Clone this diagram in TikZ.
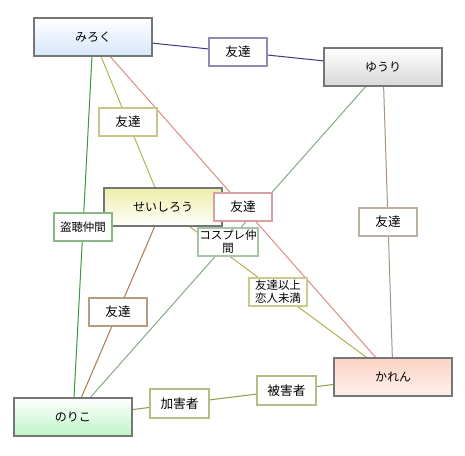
\documentclass[tikz,border=0pt]{standalone}
\usepackage{fontspec}
\newfontfamily\jp{Noto Sans CJK JP}
\pgfdeclarelayer{bg}
\pgfdeclarelayer{fg}
\pgfsetlayers{bg,main,fg}
\definecolor{boxborder}{HTML}{767676}
\definecolor{cMiroku}{HTML}{D6E6FB}
\definecolor{cYuri}{HTML}{D8D8D8}
\definecolor{cSei}{HTML}{EEEEAA}
\definecolor{cNoriko}{HTML}{BDF5C6}
\definecolor{cKarenT}{HTML}{FFF1EC}
\definecolor{cKarenB}{HTML}{FBD3C3}
\definecolor{eMY}{HTML}{3A3A80}\definecolor{lMY}{HTML}{8C8CB4}
\definecolor{eMS}{HTML}{B4B450}\definecolor{lMS}{HTML}{C8C48C}
\definecolor{eMK}{HTML}{E08A8A}\definecolor{lMK}{HTML}{D8A0A0}
\definecolor{eMN}{HTML}{3C9C3C}\definecolor{lMN}{HTML}{88B888}
\definecolor{eYN}{HTML}{88A888}\definecolor{lYN}{HTML}{A8C4A8}
\definecolor{eYK}{HTML}{A89480}\definecolor{lYK}{HTML}{BCB0A4}
\definecolor{eSN}{HTML}{B07850}\definecolor{lSN}{HTML}{B89C80}
\definecolor{eSK}{HTML}{B4B050}\definecolor{lSK}{HTML}{CCC890}
\definecolor{eNK}{HTML}{909C48}\definecolor{lNK}{HTML}{B4BC88}
\tikzset{
  person/.style={draw=boxborder, line width=1.5pt, minimum width=88.5pt, minimum height=28.5pt, inner sep=0pt, font=\jp\fontsize{9}{10}\selectfont},
  lbl/.style={draw=#1, fill=white, line width=1.3pt, minimum width=44pt, minimum height=21.5pt, inner sep=1pt, align=center, font=\jp\fontsize{9.5}{10}\selectfont},
  small/.style={font=\jp\fontsize{8.6}{9.6}\selectfont},
  edge/.style={draw=#1, line width=0.75pt}
}
\begin{document}
\begin{tikzpicture}[x=0.75pt,y=-0.75pt]
\useasboundingbox (0,0) rectangle (465,456);
% persons
\node[person, top color=white, bottom color=cMiroku] (miroku) at (93,37) {みろく};
\node[person, top color=white, bottom color=cYuri] (yuri) at (383,67) {ゆうり};
\node[person, top color=cSei, bottom color=white] (sei) at (163,207) {せいしろう};
\node[person, top color=white, bottom color=cNoriko] (noriko) at (73,417) {のりこ};
\node[person, top color=cKarenB, bottom color=cKarenT] (karen) at (393,377) {かれん};
% edges
\begin{pgfonlayer}{bg}
\fill[white] (0,0) rectangle (465,456);
\draw[edge=eMY] (miroku.center) -- (yuri.center) coordinate[pos=.5] (pMY);
\draw[edge=eMS] (miroku.center) -- (sei.center) coordinate[pos=.5] (pMS);
\draw[edge=eMK] (miroku.center) -- (karen.center) coordinate[pos=.5] (pMK);
\draw[edge=eMN] (miroku.center) -- (noriko.center) coordinate[pos=.5] (pMN);
\draw[edge=eYN] (yuri.center) -- (noriko.center) coordinate[pos=.5] (pYN);
\draw[edge=eYK] (yuri.center) -- (karen.center) coordinate[pos=.5] (pYK);
\draw[edge=eSN] (sei.center) -- (noriko.center) coordinate[pos=.5] (pSN);
\draw[edge=eSK] (sei.center) -- (karen.center) coordinate[pos=.5] (pSK);
\draw[edge=eNK] (noriko.center) -- (karen.center) coordinate[pos=.333] (pNK1) coordinate[pos=.667] (pNK2);
\end{pgfonlayer}
% labels
\begin{pgfonlayer}{fg}
\node[lbl=lMY] (lMYn) at (pMY) {友達};
\node[lbl=lMS] (lMSn) at (pMS) {友達};
\node[lbl=lMK] (lMKn) at (pMK) {友達};
\node[lbl=lMN, small] (lMNn) at (pMN) {盗聴仲間};
\node[lbl=lYN, small] (lYNn) at (pYN) {コスプレ仲\\間};
\node[lbl=lYK] (lYKn) at (pYK) {友達};
\node[lbl=lSN] (lSNn) at (pSN) {友達};
\node[lbl=lSK, small] (lSKn) at (pSK) {友達以上\\恋人未満};
\node[lbl=lNK] (lNK1n) at (pNK1) {加害者};
\node[lbl=lNK] (lNK2n) at (pNK2) {被害者};
\end{pgfonlayer}
\end{tikzpicture}
\end{document}
